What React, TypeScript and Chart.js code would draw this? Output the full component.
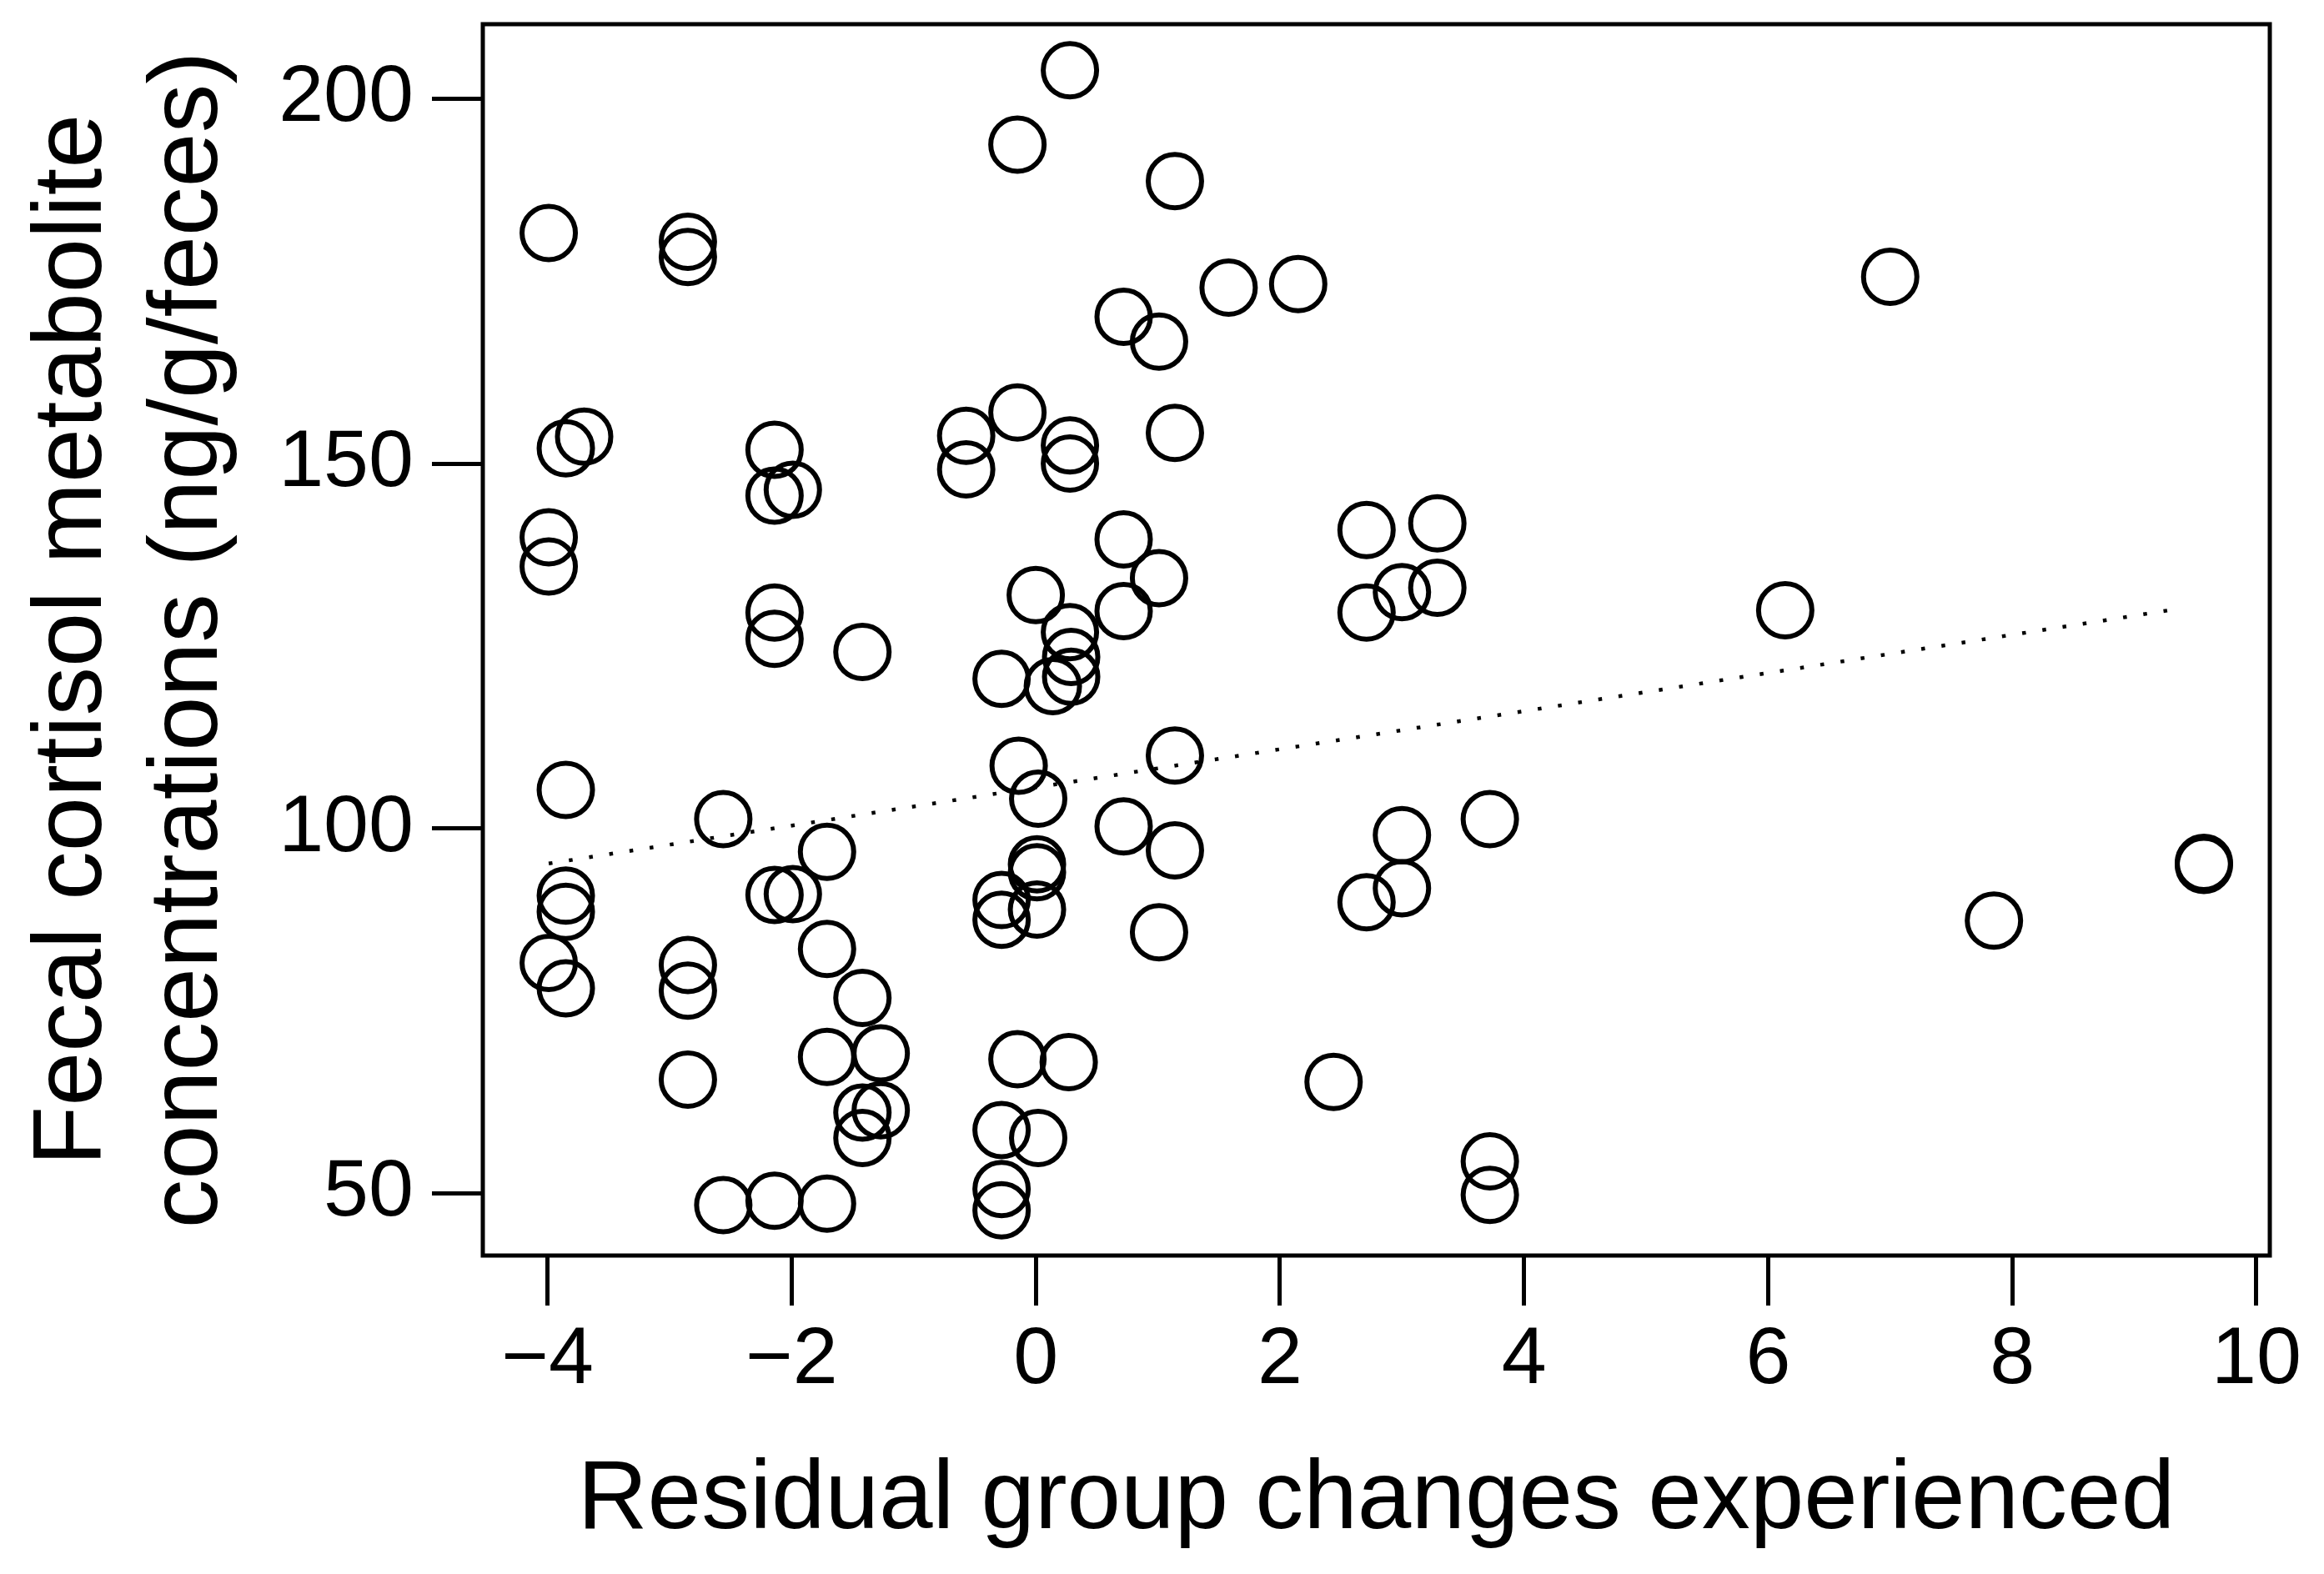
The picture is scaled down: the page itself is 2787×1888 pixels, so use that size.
import { useEffect, useRef } from 'react'
import { Chart, registerables } from 'chart.js'

Chart.register(...registerables)

// group changes (residuals) for each sample
const changes = [
  -3.99, -3.85, -3.7, -3.99, -3.99, -3.85, -3.85, -3.85, -3.99, -3.85,
  -2.85, -2.85, -2.85, -2.85, -2.85,
  -2.56, -2.56,
  -2.14, -2.14, -1.99, -2.14, -2.14, -2.14, -1.99, -2.14,
  -1.71, -1.71, -1.71, -1.71,
  -1.42, -1.42, -1.42, -1.27, -1.42, -1.27,
  -0.57, -0.57,
  -0.28, -0.28, -0.28, -0.28, -0.28, -0.28,
  -0.15, -0.15, -0.14, -0.15,
  0.0, 0.02, 0.01, 0.01, 0.01, 0.02, 0.14,
  0.28, 0.28, 0.28, 0.28, 0.29, 0.29, 0.27,
  0.72, 0.72, 0.72, 0.72,
  1.01, 1.01, 1.01,
  1.14, 1.14, 1.14, 1.14,
  1.58, 2.15, 2.44, 2.71, 2.71, 2.71, 3.0, 3.0, 3.0, 3.29, 3.29,
  3.72, 3.72, 3.72, 6.14, 7.0, 7.85, 9.57, 9.57,
]

// fecal cortisol metabolite concentrations (ng/g/feces)
const cortisol = [
  181.6, 152.1, 153.7, 139.9, 135.9, 105.3, 90.8, 88.6, 81.6, 78.1,
  180.4, 178.3, 81.3, 77.8, 65.6,
  101.3, 48.4,
  151.9, 145.6, 146.4, 129.6, 126.0, 90.9, 91.0, 49.0,
  96.8, 83.5, 68.7, 48.6,
  124.2, 76.8, 61.1, 61.4, 57.6, 69.2,
  153.8, 149.2,
  120.5, 90.2, 87.5, 58.7, 50.6, 47.7,
  193.7, 157.0, 108.6, 68.4,
  132.0, 104.1, 95.1, 94.0, 88.9, 57.6, 119.5,
  203.9, 152.5, 150.0, 126.9, 123.5, 120.8, 68.0,
  170.1, 139.6, 129.8, 100.3,
  166.7, 134.3, 85.8,
  188.7, 154.2, 110.0, 97.0,
  174.1, 174.6, 65.3, 140.9, 129.6, 89.9, 132.4, 99.1, 91.8, 141.8, 133.0,
  101.3, 54.4, 49.8, 129.9, 175.6, 87.4, 95.3, 95.0,
]

// dotted fitted line, start and end
const fitX = [-3.99, 9.36]
const fitY = [95.2, 130.1]

const xTicks = [-4, -2, 0, 2, 4, 6, 8, 10]
const xTickLabels = ['\u22124', '\u22122', '0', '2', '4', '6', '8', '10']
const yTicks = [50, 100, 150, 200]
const yTickLabels = ['50', '100', '150', '200']

const FONT = '"Liberation Sans", Arial, Helvetica, sans-serif'

// box around the plot region, like R's box()
const boxPlugin = {
  id: 'plotBox',
  afterDraw (chart) {
    const { ctx, chartArea: a } = chart
    ctx.save()
    ctx.strokeStyle = '#000'
    ctx.lineWidth = 5
    ctx.strokeRect(a.left, a.top, a.right - a.left, a.bottom - a.top)
    ctx.restore()
  },
}

export default function App () {
  const canvasRef = useRef(null)
  const chartRef = useRef(null)

  useEffect(() => {
    if (chartRef.current) chartRef.current.destroy()
    const ctx = canvasRef.current.getContext('2d')

    chartRef.current = new Chart(ctx, {
      type: 'scatter',
      data: {
        datasets: [
          {
            data: changes.map((x, i) => ({ x, y: cortisol[i] })),
            pointStyle: 'circle',
            pointRadius: 32,
            pointHoverRadius: 32,
            pointBorderWidth: 6,
            borderColor: '#000',
            backgroundColor: 'rgba(0,0,0,0)',
          },
          {
            type: 'line',
            data: fitX.map((x, i) => ({ x, y: fitY[i] })),
            borderColor: '#000',
            borderWidth: 4.5,
            borderDash: [4.5, 20],
            pointRadius: 0,
            fill: false,
          },
        ],
      },
      options: {
        animation: false,
        responsive: true,
        maintainAspectRatio: false,
        layout: { autoPadding: false, padding: { left: 0, top: 29, right: 65, bottom: 0 } },
        plugins: {
          legend: { display: false },
          tooltip: { enabled: false },
        },
        scales: {
          x: {
            type: 'linear',
            min: -4.53,
            max: 10.11,
            afterBuildTicks: (scale) => { scale.ticks = xTicks.map(v => ({ value: v })) },
            afterFit: (scale) => {
              scale.height = 382
              scale.paddingLeft = 0
              scale.paddingRight = 0
            },
            border: { display: false },
            grid: {
              drawOnChartArea: false,
              drawTicks: true,
              tickLength: 60,
              tickWidth: 5,
              tickColor: '#000',
            },
            ticks: {
              color: '#000',
              padding: 8,
              maxRotation: 0,
              font: { family: FONT, size: 97, lineHeight: 1.2 },
              callback: (v) => xTickLabels[xTicks.indexOf(v)] ?? '',
            },
            title: {
              display: true,
              text: 'Residual group changes experienced',
              color: '#000',
              padding: { top: 0, bottom: 17 },
              font: { family: FONT, size: 116, lineHeight: 1.2 },
            },
          },
          y: {
            type: 'linear',
            min: 41.5,
            max: 210.2,
            afterBuildTicks: (scale) => { scale.ticks = yTicks.map(v => ({ value: v })) },
            afterFit: (scale) => {
              scale.width = 579
              scale.paddingTop = 0
              scale.paddingBottom = 0
            },
            border: { display: false },
            grid: {
              drawOnChartArea: false,
              drawTicks: true,
              tickLength: 61,
              tickWidth: 5,
              tickColor: '#000',
            },
            ticks: {
              color: '#000',
              padding: 22,
              font: { family: FONT, size: 97, lineHeight: 1.2 },
              callback: (v) => yTickLabels[yTicks.indexOf(v)] ?? '',
            },
            title: {
              display: true,
              text: ['Fecal cortisol metabolite', 'concentrations (ng/g/feces)'],
              color: '#000',
              padding: { top: 19, bottom: 0 },
              font: { family: FONT, size: 117, lineHeight: 1.19 },
            },
          },
        },
      },
      plugins: [boxPlugin],
    })

    return () => {
      if (chartRef.current) {
        chartRef.current.destroy()
        chartRef.current = null
      }
    }
  }, [])

  return (
    <div style={{ position: 'fixed', left: 0, top: 0, width: 2787, height: 1888, background: '#fff' }}>
      <canvas ref={canvasRef} />
    </div>
  )
}
